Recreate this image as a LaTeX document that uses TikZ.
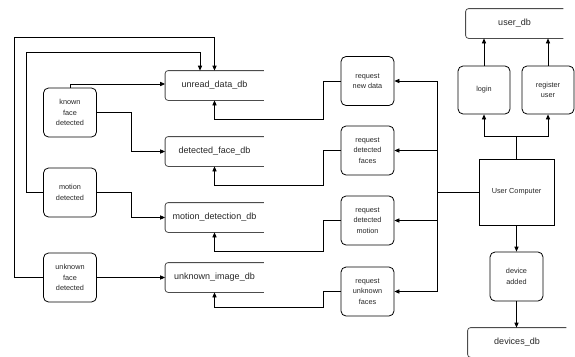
\documentclass[tikz,border=0pt]{standalone}
\usepackage{fontspec}
\setmainfont{Liberation Sans}
\usetikzlibrary{arrows.meta}

\begin{document}
\begin{tikzpicture}[x=1pt, y=-1pt, >={Triangle[length=5pt,width=4.2pt]}, line width=0.8pt,
  every node/.style={font=\fontsize{7.3}{10.3}\selectfont, align=center, text=black!85},
  proc/.style={draw, rounded corners=5pt, minimum width=53pt, minimum height=49pt, inner sep=1pt},
  store/.style={minimum width=98pt, minimum height=29pt, font=\fontsize{9}{11}\selectfont}]
        \useasboundingbox (0,0) rectangle (575,356);
        % events
        \node[proc] (kfd) at (70,112.5) {known\\face\\detected};
        \node[proc] (md) at (70,192.5) {motion\\detected};
        \node[proc] (ufd) at (70,277.5) {unknown\\face\\detected};
        % databases
        \node[store] (udb) at (214.5,85.5) {unread\_data\_db};
        \node[store] (dfdb) at (214.5,151.5) {detected\_face\_db};
        \node[store] (mddb) at (214.5,217.5) {motion\_detection\_db};
        \node[store] (uidb) at (214.5,277.5) {unknown\_image\_db};
        \node[store, minimum width=97pt] (usdb) at (514.5,23.5) {user\_db};
        \node[store] (dvdb) at (517,342.5) {devices\_db};
        \foreach \s in {udb,dfdb,mddb,uidb,usdb,dvdb}{
          \draw[rounded corners=3pt, black!70] (\s.north east) -- (\s.north west) -- (\s.south west) -- (\s.south east);
        }
        % requests
        \node[proc] (rnd) at (367.5,81) {request\\new data};
        \node[proc] (rdf) at (367.5,150.5) {request\\detected\\faces};
        \node[proc] (rdm) at (367.5,220.5) {request\\detected\\motion};
        \node[proc] (ruf) at (367.5,291.5) {request\\unknown\\faces};
        % user side
        \node[draw, minimum width=75pt, minimum height=66pt] (uc) at (516.5,192) {User Computer};
        \node[proc, minimum width=52pt, minimum height=48pt] (login) at (484,90) {login};
        \node[proc, minimum width=52pt, minimum height=48pt] (reg) at (548,90) {register\\user};
        \node[proc] (dev) at (516.5,276.5) {device\\added};
        % events -> databases
        \draw[->] (ufd.west) -| (14,37) -| (udb.north);
        \draw[->] (md.west) -| (26,52) -| ([xshift=-14.5pt]udb.north);
        \draw[->] (kfd.north) |- ([yshift=1.5pt]udb.west);
        \draw[->] (kfd.east) -- ++(34,0) |- (dfdb.west);
        \draw[->] (md.east) -- ++(34,0) |- (mddb.west);
        \draw[->] (ufd.east) -- (uidb.west);
        % requests -> databases
        \draw[->] (rnd.west) -- ++(-17,0) -- ++(0,38) -| (udb.south);
        \draw[->] (rdf.west) -- ++(-17,0) -- ++(0,34.5) -| (dfdb.south);
        \draw[->] (rdm.west) -- ++(-17,0) -- ++(0,30.5) -| (mddb.south);
        \draw[->] (ruf.west) -- ++(-17,0) -- ++(0,15.5) -| (uidb.south);
        % user computer
        \coordinate (bus) at (437,192);
        \draw (uc.west) -- (bus);
        \foreach \r in {rnd,rdf,rdm,ruf}{
          \draw[->] (bus) |- (\r.east);
        }
        \coordinate (split) at (516.5,136);
        \draw (uc.north) -- (split);
        \draw[->] (split) -| (login.south);
        \draw[->] (split) -| (reg.south);
        \draw[->] (login.north) -- (login.north |- usdb.south);
        \draw[->] (reg.north) -- (reg.north |- usdb.south);
        \draw[->] (uc.south) -- (dev.north);
        \draw[->] (dev.south) -- (dev.south |- dvdb.north);
      \end{tikzpicture}
\end{document}
